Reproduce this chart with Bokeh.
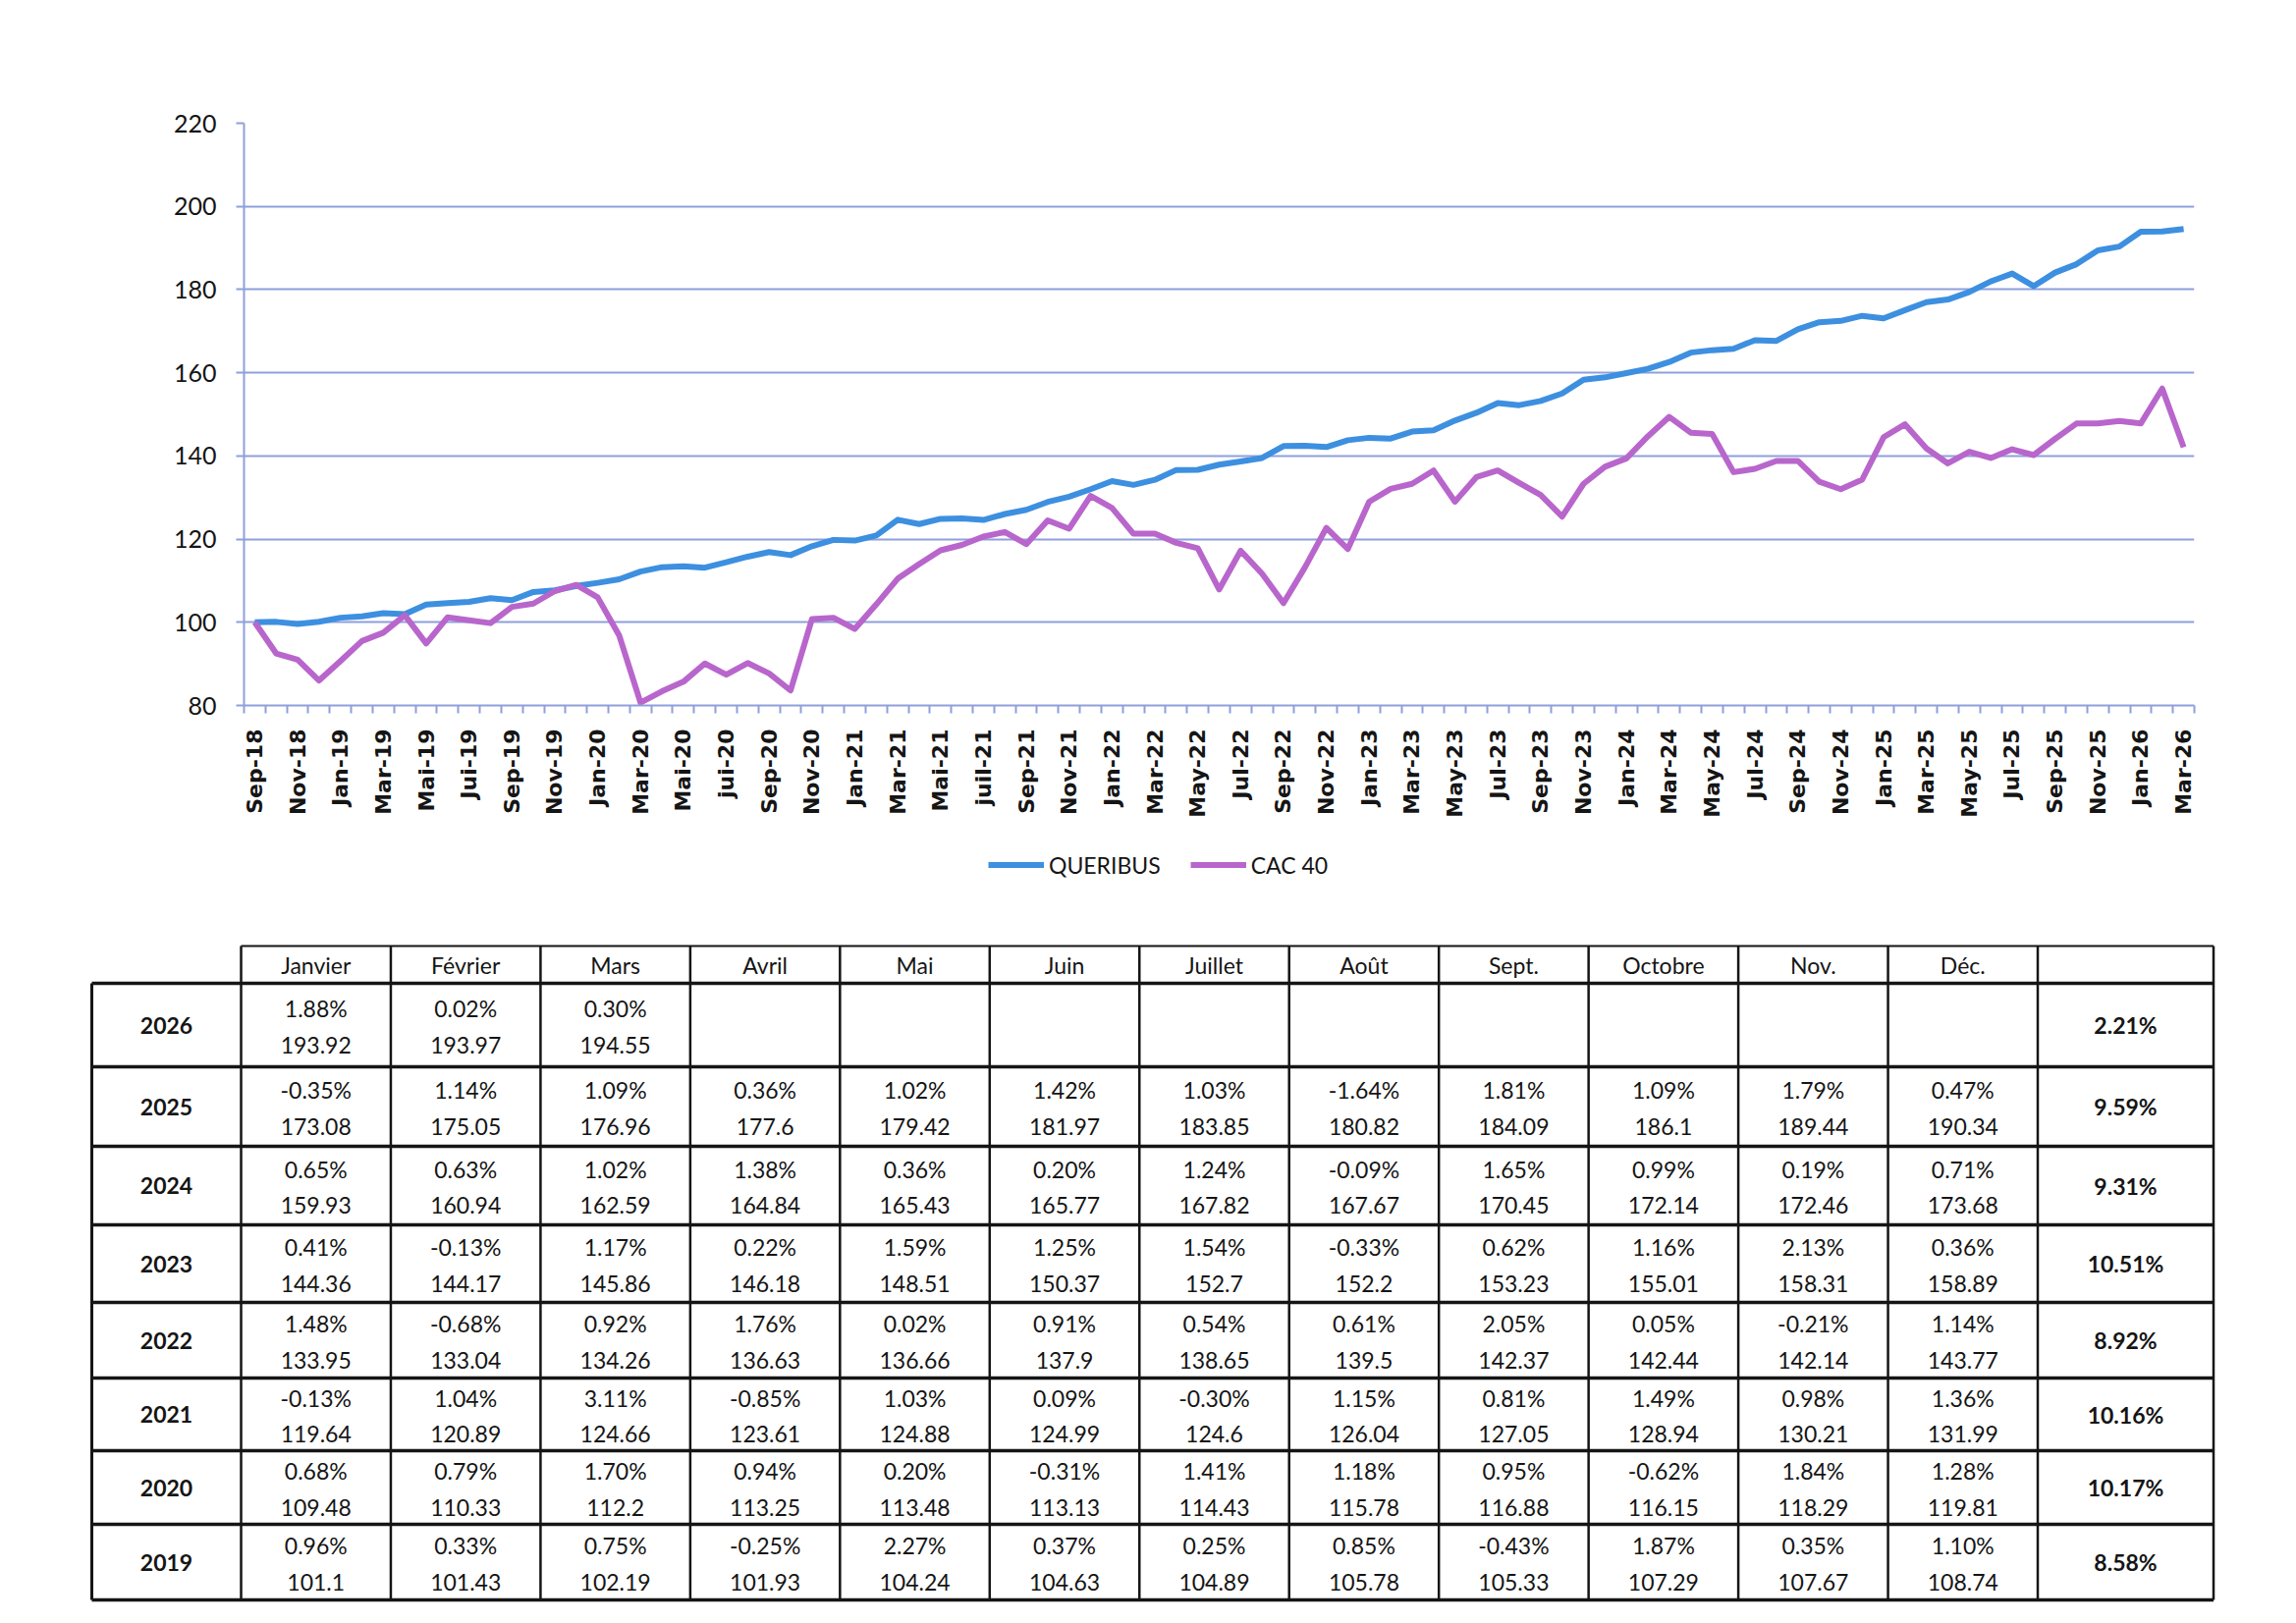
import math
from bokeh.plotting import figure
from bokeh.models import Range1d, FixedTicker, Legend, LegendItem
from bokeh.layouts import column
from bokeh.embed import file_html
from bokeh.resources import INLINE
from bokeh.core.properties import value

# ---------------- data ----------------
X_LABELS = ["Sep-18", "Nov-18",
            "Jan-19", "Mar-19", "Mai-19", "Jui-19", "Sep-19", "Nov-19",
            "Jan-20", "Mar-20", "Mai-20", "jui-20", "Sep-20", "Nov-20",
            "Jan-21", "Mar-21", "Mai-21", "juil-21", "Sep-21", "Nov-21",
            "Jan-22", "Mar-22", "May-22", "Jul-22", "Sep-22", "Nov-22",
            "Jan-23", "Mar-23", "May-23", "Jul-23", "Sep-23", "Nov-23",
            "Jan-24", "Mar-24", "May-24", "Jul-24", "Sep-24", "Nov-24",
            "Jan-25", "Mar-25", "May-25", "Jul-25", "Sep-25", "Nov-25",
            "Jan-26", "Mar-26"]

CAC40 = [100.0, 92.5, 91.0, 86.0,
         90.7, 95.5, 97.5, 101.7, 94.9, 101.2, 100.5, 99.8, 103.7, 104.5, 107.5, 109.0,
         106.0, 96.9, 80.7, 83.4, 85.7, 90.1, 87.4, 90.2, 87.7, 83.6, 100.8, 101.1,
         98.4, 104.3, 110.5, 114.0, 117.3, 118.6, 120.6, 121.7, 118.8, 124.5, 122.5, 130.4,
         127.5, 121.3, 121.3, 119.1, 117.8, 107.9, 117.2, 111.7, 104.6, 113.2, 122.7, 117.6,
         129.0, 132.1, 133.3, 136.5, 129.0, 134.9, 136.5, 133.5, 130.6, 125.4, 133.3, 137.4,
         139.4, 144.7, 149.4, 145.6, 145.3, 136.1, 136.9, 138.8, 138.8, 133.8, 132.0, 134.3,
         144.5, 147.6, 141.8, 138.2, 141.0, 139.5, 141.6, 140.2, 144.1, 147.8, 147.8, 148.4,
         147.8, 156.2, 142.1]

QUERIBUS_2018 = [100.0, 100.1, 99.6, 100.14]  # Sep-Dec 2018

MONTHS = ["Janvier", "Février", "Mars", "Avril", "Mai", "Juin", "Juillet",
          "Août", "Sept.", "Octobre", "Nov.", "Déc."]
YEARS = ["2026", "2025", "2024", "2023", "2022", "2021", "2020", "2019"]

PCT_2026 = [1.88, 0.02, 0.30]
IDX_2026 = [193.92, 193.97, 194.55]
PCT_2025 = [-0.35, 1.14, 1.09, 0.36, 1.02, 1.42, 1.03, -1.64, 1.81, 1.09, 1.79, 0.47]
IDX_2025 = [173.08, 175.05, 176.96, 177.6, 179.42, 181.97, 183.85, 180.82, 184.09, 186.1, 189.44, 190.34]
PCT_2024 = [0.65, 0.63, 1.02, 1.38, 0.36, 0.20, 1.24, -0.09, 1.65, 0.99, 0.19, 0.71]
IDX_2024 = [159.93, 160.94, 162.59, 164.84, 165.43, 165.77, 167.82, 167.67, 170.45, 172.14, 172.46, 173.68]
PCT_2023 = [0.41, -0.13, 1.17, 0.22, 1.59, 1.25, 1.54, -0.33, 0.62, 1.16, 2.13, 0.36]
IDX_2023 = [144.36, 144.17, 145.86, 146.18, 148.51, 150.37, 152.7, 152.2, 153.23, 155.01, 158.31, 158.89]
PCT_2022 = [1.48, -0.68, 0.92, 1.76, 0.02, 0.91, 0.54, 0.61, 2.05, 0.05, -0.21, 1.14]
IDX_2022 = [133.95, 133.04, 134.26, 136.63, 136.66, 137.9, 138.65, 139.5, 142.37, 142.44, 142.14, 143.77]
PCT_2021 = [-0.13, 1.04, 3.11, -0.85, 1.03, 0.09, -0.30, 1.15, 0.81, 1.49, 0.98, 1.36]
IDX_2021 = [119.64, 120.89, 124.66, 123.61, 124.88, 124.99, 124.6, 126.04, 127.05, 128.94, 130.21, 131.99]
PCT_2020 = [0.68, 0.79, 1.70, 0.94, 0.20, -0.31, 1.41, 1.18, 0.95, -0.62, 1.84, 1.28]
IDX_2020 = [109.48, 110.33, 112.2, 113.25, 113.48, 113.13, 114.43, 115.78, 116.88, 116.15, 118.29, 119.81]
PCT_2019 = [0.96, 0.33, 0.75, -0.25, 2.27, 0.37, 0.25, 0.85, -0.43, 1.87, 0.35, 1.10]
IDX_2019 = [101.1, 101.43, 102.19, 101.93, 104.24, 104.63, 104.89, 105.78, 105.33, 107.29, 107.67, 108.74]
TOTALS = [2.21, 9.59, 9.31, 10.51, 8.92, 10.16, 10.17, 8.58]

PCT_ROWS = [PCT_2026, PCT_2025, PCT_2024, PCT_2023, PCT_2022, PCT_2021, PCT_2020, PCT_2019]
IDX_ROWS = [IDX_2026, IDX_2025, IDX_2024, IDX_2023, IDX_2022, IDX_2021, IDX_2020, IDX_2019]

QUERIBUS = QUERIBUS_2018 + IDX_2019 + IDX_2020 + IDX_2021 + IDX_2022 + IDX_2023 + IDX_2024 + IDX_2025 + IDX_2026
XS = list(range(len(QUERIBUS)))

# ---------------- style ----------------
BLUE = "#3D8FE0"
PURPLE = "#B866CC"
GRID = "#8E9FDC"
INK = "#151515"
W = 2322
H1 = 848
H2 = 789
FRAME_L, FRAME_T, FRAME_W, FRAME_H = 248, 125, 1986, 593
TXT = "23px"

# ---------------- chart ----------------
p = figure(width=W, height=H1, x_range=Range1d(-0.5, len(XS) - 0.5), y_range=Range1d(80, 220),
           output_backend="svg", toolbar_location=None,
           min_border_left=FRAME_L, min_border_right=W - FRAME_L - FRAME_W,
           min_border_top=FRAME_T, min_border_bottom=H1 - FRAME_T - FRAME_H)
p.frame_align = False
p.outline_line_color = None
p.background_fill_color = "white"
p.border_fill_color = "white"
p.xgrid.visible = False
p.ygrid.grid_line_color = GRID
p.ygrid.grid_line_width = 2

p.yaxis.ticker = FixedTicker(ticks=list(range(80, 221, 20)))
p.yaxis.axis_line_color = GRID
p.yaxis.axis_line_width = 2
p.yaxis.major_tick_line_color = GRID
p.yaxis.major_tick_line_width = 2
p.yaxis.major_tick_out = 8
p.yaxis.major_tick_in = 0
p.yaxis.minor_tick_line_color = None
p.yaxis.major_label_text_font = "Lato"
p.yaxis.major_label_text_font_size = "25px"
p.yaxis.major_label_text_color = INK
p.yaxis.major_label_standoff = 20

tick_idx = list(range(0, len(XS), 2))
p.xaxis.ticker = FixedTicker(ticks=tick_idx, minor_ticks=[i - 0.5 for i in range(len(XS) + 1)])
p.xaxis.major_label_overrides = {i: X_LABELS[k] for k, i in enumerate(tick_idx)}
p.xaxis.axis_line_color = GRID
p.xaxis.axis_line_width = 2
p.xaxis.major_tick_line_color = None
p.xaxis.major_tick_out = 0
p.xaxis.major_tick_in = 0
p.xaxis.minor_tick_line_color = GRID
p.xaxis.minor_tick_line_width = 2
p.xaxis.minor_tick_out = 8
p.xaxis.minor_tick_in = 0
p.xaxis.major_label_orientation = math.pi / 2
p.xaxis.major_label_text_font = "DejaVu Sans"
p.xaxis.major_label_text_font_style = "bold"
p.xaxis.major_label_text_font_size = "22px"
p.xaxis.major_label_text_color = INK
p.xaxis.major_label_standoff = 16

p.line(XS, QUERIBUS, line_color=BLUE, line_width=6, line_join="round")
p.line(XS, CAC40, line_color=PURPLE, line_width=6, line_join="round")

# ---------------- table (and legend) ----------------
TOP = H1
t = figure(width=W, height=H2, x_range=Range1d(0, W), y_range=Range1d(TOP + H2, TOP),
           output_backend="svg", toolbar_location=None, min_border=0,
           x_axis_location=None, y_axis_location=None)
t.frame_align = False
t.grid.visible = False
t.outline_line_color = None
t.background_fill_color = "white"
t.border_fill_color = "white"

# legend keys: same series and styles as the chart lines (they fall outside this panel's
# visible range, so only their legend swatches show)
k_q = t.line(XS, QUERIBUS, line_color=BLUE, line_width=6)
k_c = t.line(XS, CAC40, line_color=PURPLE, line_width=6)
LEG_X, LEG_Y = 1006, 882          # legend left edge and vertical centre
legend = Legend(items=[LegendItem(label="QUERIBUS", renderers=[k_q]),
                       LegendItem(label="CAC 40", renderers=[k_c])],
                orientation="horizontal",
                location=(LEG_X, H2 - (LEG_Y - TOP) - 12.5),
                glyph_width=57, glyph_height=25, label_height=25, label_standoff=5, spacing=30,
                padding=0, margin=0, border_line_color=None, background_fill_alpha=0,
                label_text_font="Lato", label_text_font_size="23px", label_text_color=INK)
t.add_layout(legend, "center")

X0 = 93.0
LABEL_W = 152.0
COL_W = 152.46
TOTAL_W = 179.0
HEAD_TOP = 963.0
HEAD_BOT = 1001.0
ROW_H = [85, 81, 80, 79, 77, 74, 75, 77]

X1 = X0 + LABEL_W
col_edges = [X1 + k * COL_W for k in range(len(MONTHS) + 1)]
X_RIGHT = col_edges[-1] + TOTAL_W
row_edges = [HEAD_BOT]
for h in ROW_H:
    row_edges.append(row_edges[-1] + h)

# horizontal lines
t.segment(x0=[X1], y0=[HEAD_TOP], x1=[X_RIGHT], y1=[HEAD_TOP], line_color=INK, line_width=2)
t.segment(x0=[X0] * len(row_edges), y0=row_edges, x1=[X_RIGHT] * len(row_edges), y1=row_edges,
          line_color=INK, line_width=3.5)
# vertical lines
t.segment(x0=[X0], y0=[HEAD_BOT], x1=[X0], y1=[row_edges[-1]], line_color=INK, line_width=3)
vx = col_edges + [X_RIGHT]
t.segment(x0=vx, y0=[HEAD_TOP] * len(vx), x1=vx, y1=[row_edges[-1]] * len(vx),
          line_color=INK, line_width=2.5)

col_centers = [(col_edges[k] + col_edges[k + 1]) / 2 for k in range(len(MONTHS))]
row_centers = [(row_edges[r] + row_edges[r + 1]) / 2 for r in range(len(YEARS))]

t.text(x=col_centers, y=[(HEAD_TOP + HEAD_BOT) / 2] * len(MONTHS), text=MONTHS,
       text_align="center", text_baseline="middle", text_font=value("Lato"),
       text_font_size=TXT, text_color=INK)

t.text(x=[(X0 + X1) / 2] * len(YEARS), y=row_centers, text=YEARS,
       text_align="center", text_baseline="middle", text_font=value("Lato"),
       text_font_style="bold", text_font_size=TXT, text_color=INK)

t.text(x=[(col_edges[-1] + X_RIGHT) / 2] * len(TOTALS), y=row_centers,
       text=[f"{v:.2f}%" for v in TOTALS],
       text_align="center", text_baseline="middle", text_font=value("Lato"),
       text_font_style="bold", text_font_size=TXT, text_color=INK)

px, py, ptxt, ix, iy, itxt = [], [], [], [], [], []
for r, (pcts, idxs) in enumerate(zip(PCT_ROWS, IDX_ROWS)):
    for m, (pv, iv) in enumerate(zip(pcts, idxs)):
        px.append(col_centers[m]); py.append(row_centers[r] - 17); ptxt.append(f"{pv:.2f}%")
        ix.append(col_centers[m]); iy.append(row_centers[r] + 20); itxt.append(str(iv))

t.text(x=px, y=py, text=ptxt, text_align="center", text_baseline="middle",
       text_font=value("Lato"), text_font_size=TXT, text_color=INK)
t.text(x=ix, y=iy, text=itxt, text_align="center", text_baseline="middle",
       text_font=value("Lato"), text_font_size=TXT, text_color=INK)

layout = column(p, t)
open("out.html", "w").write(file_html(layout, INLINE))
